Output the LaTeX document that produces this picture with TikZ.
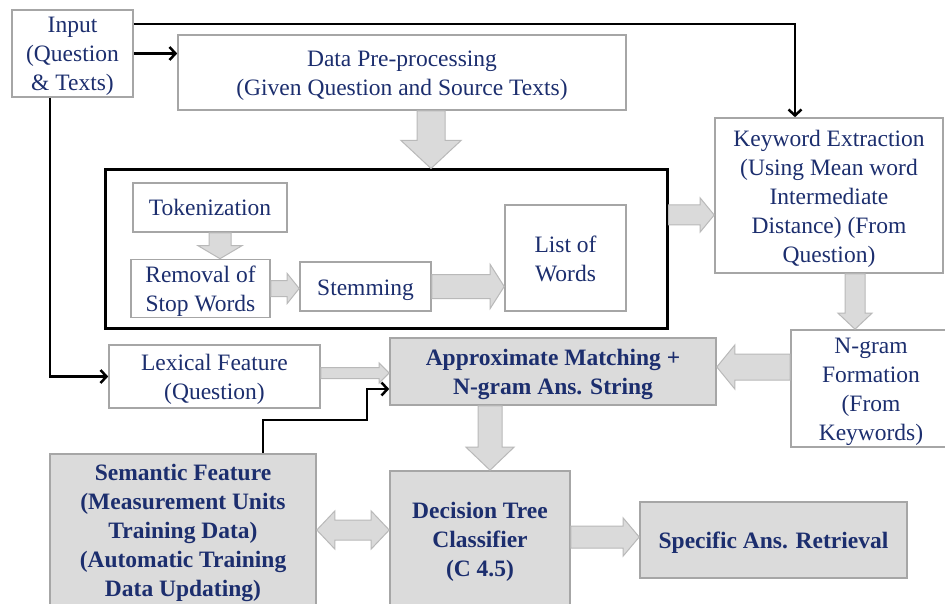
\documentclass[tikz,border=0pt]{standalone}
\usepackage{fontspec}
\setmainfont{Liberation Serif}
\usetikzlibrary{arrows.meta,calc}
\definecolor{txt}{RGB}{28,46,110}
\definecolor{bordergray}{RGB}{166,166,166}
\definecolor{boxfill}{RGB}{219,219,219}
\definecolor{arrfill}{RGB}{218,218,218}
\definecolor{arrline}{RGB}{185,185,185}
\newcommand\tstr{\rule{0pt}{23pt}}
\newcommand\bstr{\rule[-6pt]{0pt}{6pt}}
\tikzset{
  box/.style={draw=bordergray, line width=1.6pt, fill=white, text=txt, align=center,
    inner sep=0pt, font=\fontsize{23.5}{29}\selectfont},
  gbox/.style={box, fill=boxfill, font=\fontsize{23.5}{29}\selectfont\bfseries},
  thick box/.style={draw=black, line width=3pt},
  conn/.style={draw=black, line width=2.5pt, -{Straight Barb[length=6pt,width=13pt]}},
  blk/.style={fill=arrfill, draw=arrline, line width=1pt, line join=miter}
}
% horizontal block arrow: from #1 to x of #2, shaft half #3, head half #4, signed head length #5
\newcommand\blkH[5]{\path[blk] let \p1=(#1), \p2=(#2) in
  (\x1,\y1+#3pt) -- (\x2-#5pt,\y1+#3pt) -- (\x2-#5pt,\y1+#4pt) -- (\x2,\y1)
  -- (\x2-#5pt,\y1-#4pt) -- (\x2-#5pt,\y1-#3pt) -- (\x1,\y1-#3pt) -- cycle;}
% downward block arrow
\newcommand\blkV[5]{\path[blk] let \p1=(#1), \p2=(#2) in
  (\x1-#3pt,\y1) -- (\x1-#3pt,\y2+#5pt) -- (\x1-#4pt,\y2+#5pt) -- (\x1,\y2)
  -- (\x1+#4pt,\y2+#5pt) -- (\x1+#3pt,\y2+#5pt) -- (\x1+#3pt,\y1) -- cycle;}
% double horizontal block arrow
\newcommand\blkD[5]{\path[blk] let \p1=(#1), \p2=(#2) in
  (\x1,\y1) -- (\x1+#5pt,\y1+#4pt) -- (\x1+#5pt,\y1+#3pt) -- (\x2-#5pt,\y1+#3pt)
  -- (\x2-#5pt,\y1+#4pt) -- (\x2,\y1) -- (\x2-#5pt,\y1-#4pt) -- (\x2-#5pt,\y1-#3pt)
  -- (\x1+#5pt,\y1-#3pt) -- (\x1+#5pt,\y1-#4pt) -- cycle;}
\begin{document}
\begin{tikzpicture}[x=1pt,y=-1pt]
\useasboundingbox (0,0) rectangle (945,604);
\clip (0,0) rectangle (945,604);
\fill[white] (0,0) rectangle (945,604);

\node[box, minimum width=121pt, minimum height=83pt] (in) at (72.5,53.5) {\tstr Input\\(Question\\\& Texts)\bstr};
\node[box, minimum width=448pt, minimum height=75pt] (pre) at (402,72.5) {\tstr Data Pre-processing\\(Given Question and Source Texts)\bstr};
\node[thick box, minimum width=562pt, minimum height=158pt] (big) at (386,249) {};
\node[box, minimum width=154pt, minimum height=49pt] (tok) at (210,207.5) {\tstr Tokenization\bstr};
\node[box, minimum width=139pt, minimum height=53pt] (rem) at (200.5,288.5) {\tstr Removal of\\Stop Words\bstr};
\node[box, minimum width=131pt, minimum height=49pt] (stem) at (365.5,286.5) {\tstr Stemming\bstr};
\node[box, minimum width=121pt, minimum height=106pt] (list) at (565.5,258) {\tstr List of\\Words\bstr};
\node[box, minimum width=228pt, minimum height=155pt] (key) at (829,195.5) {\tstr Keyword Extraction\\(Using Mean word\\Intermediate\\Distance) (From\\Question)\bstr};
\node[box, minimum width=160pt, minimum height=117pt] (ngram) at (871,388.5) {\tstr N-gram\\Formation\\(From\\Keywords)\bstr};
\node[gbox, minimum width=326pt, minimum height=67pt] (approx) at (553,371.5) {\tstr Approximate Matching +\\N-gram Ans. String\bstr};
\node[box, minimum width=211pt, minimum height=63pt] (lex) at (214.5,376.5) {\tstr Lexical Feature\\(Question)\bstr};
\node[gbox, minimum width=266pt, minimum height=152pt] (sem) at (183,530) {\tstr Semantic Feature\\(Measurement Units\\Training Data)\\(Automatic Training\\Data Updating)\bstr};
\node[gbox, minimum width=180pt, minimum height=135pt] (dec) at (480,538.5) {\tstr Decision Tree\\Classifier\\(C 4.5)\bstr};
\node[gbox, minimum width=267pt, minimum height=76pt] (spec) at (773.5,540) {\tstr Specific Ans. Retrieval\bstr};

% block arrows
\blkV{[xshift=29pt]pre.south}{big.north}{14}{30}{28}
\blkV{[xshift=10pt]tok.south}{rem.north}{11}{22}{13}
\blkH{rem.east}{stem.west}{8}{15}{12}
\blkH{stem.east}{list.west}{12}{22}{14}
\blkH{[yshift=34pt]big.east}{key.west}{10}{17}{14}
\blkV{[xshift=26pt]key.south}{ngram.north}{10}{17}{16}
\blkH{[yshift=21.5pt]ngram.west}{approx.east}{13}{22}{-18}
\blkH{[yshift=3.5pt]lex.east}{approx.west}{5.5}{10}{10}
\blkV{[xshift=-63pt]approx.south}{dec.north}{12}{24}{23}
\blkD{sem.east}{dec.west}{10}{19}{18}
\blkH{[yshift=1.5pt]dec.east}{spec.west}{11}{19}{16}

% black connectors
\draw[conn] ([yshift=-15pt]in.north east) -| ([xshift=-34pt]key.north);
\draw[conn] (in.east) -- (in.east -| pre.west);
\draw[conn] ([xshift=-22.5pt]in.south) |- (lex.west);
\draw[conn] ([xshift=80pt]sem.north) -- ++(0,-33) -- ++(104,0) |- ([yshift=-17.5pt]approx.west);
\end{tikzpicture}
\end{document}
